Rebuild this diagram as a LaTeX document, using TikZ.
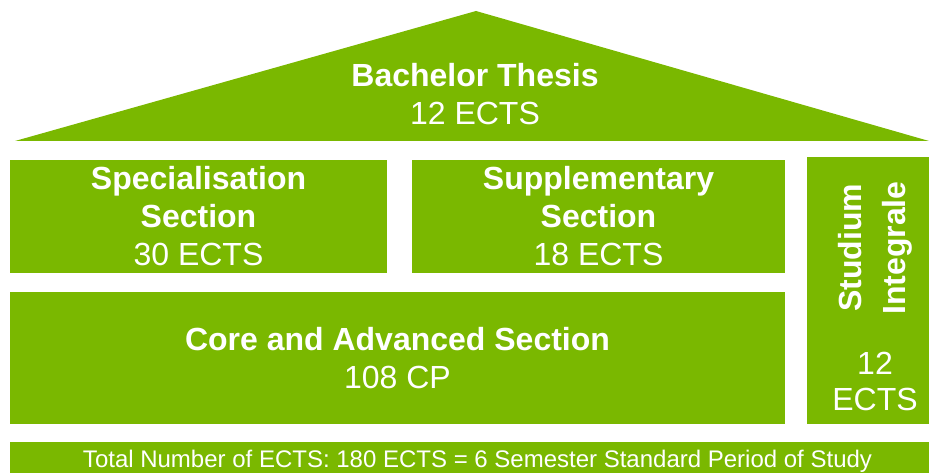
\documentclass[tikz,border=0pt]{standalone}
\usepackage{fontspec}
\setmainfont{Liberation Sans}
\definecolor{hgreen}{RGB}{122,184,0}
\begin{document}
\begin{tikzpicture}[x=1pt,y=-1pt,
  blk/.style={fill=hgreen,draw=none,inner sep=0pt,text=white,align=center,
    font=\fontsize{32}{38}\selectfont},
  lbl/.style={text=white,align=center,inner sep=0pt,font=\fontsize{32}{38}\selectfont}]
\useasboundingbox (0,0) rectangle (929,473);
% roof
\fill[hgreen] (15,141) -- (476,11) -- (929,141) -- cycle;
\node[lbl] (thesis) at (475,94) {\textbf{Bachelor Thesis}\\12 ECTS};
% boxes
\node[blk,minimum width=377pt,minimum height=113pt] (spec) at (198.5,216.5)
  {\textbf{Specialisation}\\\textbf{Section}\\30 ECTS};
\node[blk,minimum width=373pt,minimum height=113pt] (supp) at (598.5,216.5)
  {\textbf{Supplementary}\\\textbf{Section}\\18 ECTS};
\node[blk,minimum width=775pt,minimum height=132pt] (core) at (397.5,358)
  {\textbf{Core and Advanced Section}\\108 CP};
\node[blk,minimum width=125pt,minimum height=267pt] (studium) at (869.5,290.5) {};
\node[lbl,rotate=90,font=\fontsize{32}{44}\selectfont] (studtxt) at (875,248) {\textbf{Studium}\\\textbf{Integrale}};
\node[lbl,font=\fontsize{32}{36}\selectfont] (studects) at (875,381) {12\\ECTS};
\node[blk,minimum width=922pt,minimum height=34pt] (total) at (471,459) {};
\node[lbl,font=\fontsize{24}{28}\selectfont,anchor=base] (totaltxt) at (477.5,467)
  {Total Number of ECTS: 180 ECTS = 6 Semester Standard Period of Study};
\end{tikzpicture}
\end{document}
